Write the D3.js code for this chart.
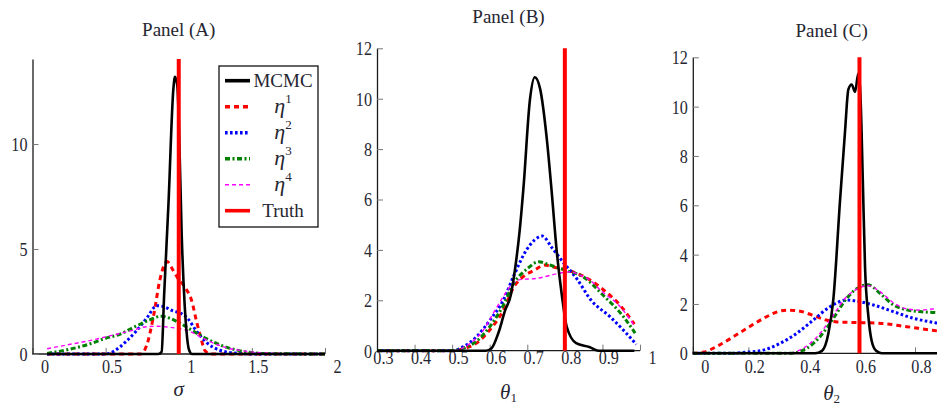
<!DOCTYPE html>
<html>
<head>
<meta charset="utf-8">
<script src="https://cdn.jsdelivr.net/npm/d3@7"></script>
<style>
  body { margin: 0; background: #fff; }
  svg { display: block; }
  svg text { font-family: "Liberation Serif", "DejaVu Serif", serif; }
</style>
</head>
<body>
<svg id="chart" width="937" height="406"></svg>
<script>
// --- datos: pares [x, densidad] ---
const seriesLabels = ["MCMC", "1", "2", "3", "4", "Truth"];
const truthValues = [1.0, 0.8, 0.6];

// Panel (A): sigma
const mcmcA = [[0.1,0],[0.86,0],[0.883,0.1],[0.9,2.8],[0.93,7.2],[0.963,12.6],[0.974,13.2],[0.99,12.8],[1.0,11.2],[1.02,5.7],[1.04,2.4],[1.054,1.0],[1.07,0.2],[1.09,0],[2,0]];
const eta1A = [[0.1,0],[0.74,0],[0.78,0.4],[0.83,1.9],[0.87,3.5],[0.92,4.4],[0.96,4.0],[0.99,3.65],[1.04,3.2],[1.09,2.5],[1.12,1.6],[1.15,0.8],[1.18,0.15],[1.22,0],[2,0]];
const eta2A = [[0.1,0],[0.5,0],[0.56,0.15],[0.64,0.6],[0.71,1.1],[0.78,1.7],[0.85,2.3],[0.9,2.25],[0.96,2.05],[1.01,1.95],[1.06,1.7],[1.12,1.1],[1.19,0.55],[1.28,0.18],[1.4,0.03],[1.5,0],[2,0]];
const eta3A = [[0.1,0.03],[0.2,0.15],[0.3,0.3],[0.4,0.5],[0.5,0.75],[0.6,0.95],[0.7,1.3],[0.8,1.62],[0.88,1.8],[0.94,1.7],[1.0,1.5],[1.05,1.3],[1.17,0.8],[1.26,0.5],[1.35,0.27],[1.46,0.1],[1.6,0.02],[2,0]];
const eta4A = [[0.1,0.25],[0.25,0.45],[0.4,0.65],[0.55,0.9],[0.67,1.1],[0.78,1.3],[0.86,1.32],[0.94,1.27],[1.05,1.14],[1.19,0.67],[1.3,0.35],[1.44,0.15],[1.58,0.05],[1.8,0.01],[2,0]];

// Panel (B): theta_1
const mcmcB = [[0.3,0],[0.59,0],[0.605,0.1],[0.623,0.7],[0.641,1.6],[0.656,2.2],[0.667,3.2],[0.68,4.8],[0.69,6.5],[0.707,9.95],[0.72,10.85],[0.734,10.4],[0.752,8.4],[0.765,6.3],[0.778,4.0],[0.792,2.2],[0.805,0.95],[0.83,0.3],[0.865,0.15],[0.89,0],[0.985,0]];
const eta1B = [[0.3,0],[0.5,0],[0.53,0.08],[0.565,0.3],[0.6,0.82],[0.636,1.6],[0.663,2.5],[0.69,2.95],[0.72,3.2],[0.745,3.4],[0.775,3.3],[0.8,3.22],[0.85,2.95],[0.9,2.45],[0.947,1.8],[0.985,1.05]];
const eta2B = [[0.3,0],[0.5,0],[0.53,0.16],[0.565,0.56],[0.6,1.2],[0.636,2.0],[0.663,2.94],[0.698,4.0],[0.72,4.4],[0.74,4.55],[0.765,4.1],[0.796,3.5],[0.832,2.85],[0.87,2.0],[0.92,1.35],[0.96,0.75],[0.99,0.25]];
const eta3B = [[0.3,0],[0.5,0],[0.53,0.1],[0.565,0.38],[0.6,0.95],[0.636,1.8],[0.663,2.65],[0.7,3.25],[0.73,3.53],[0.76,3.4],[0.8,3.2],[0.85,2.92],[0.902,2.2],[0.956,1.35],[0.987,0.7]];
const eta4B = [[0.3,0],[0.5,0],[0.53,0.12],[0.548,0.29],[0.583,0.82],[0.61,1.5],[0.636,2.14],[0.66,2.65],[0.68,2.82],[0.725,2.87],[0.778,3.05],[0.814,3.13],[0.84,3.0],[0.867,2.8],[0.894,2.41],[0.947,1.75],[0.987,0.95]];

// Panel (C): theta_2
const mcmcC = [[0,0],[0.44,0],[0.465,0.1],[0.488,0.8],[0.506,2.2],[0.53,6.2],[0.548,9.0],[0.56,10.7],[0.572,10.9],[0.584,10.6],[0.596,11.35],[0.604,10.3],[0.612,7.0],[0.62,3.5],[0.632,1.5],[0.644,0.5],[0.66,0.1],[0.68,0],[1,0]];
const eta1C = [[0,0],[0.04,0.05],[0.09,0.3],[0.15,0.7],[0.2,1.05],[0.26,1.45],[0.31,1.7],[0.34,1.75],[0.38,1.72],[0.43,1.55],[0.48,1.35],[0.52,1.27],[0.58,1.25],[0.67,1.22],[0.77,1.08],[0.87,0.92],[1,0.8]];
const eta2C = [[0,0],[0.13,0],[0.2,0.05],[0.254,0.13],[0.314,0.4],[0.374,0.81],[0.434,1.35],[0.494,1.89],[0.554,2.16],[0.602,2.09],[0.65,1.96],[0.722,1.69],[0.794,1.42],[0.872,1.24],[1,1.05]];
const eta3C = [[0,0],[0.35,0],[0.41,0.2],[0.458,0.67],[0.506,1.42],[0.554,2.23],[0.602,2.7],[0.63,2.78],[0.674,2.43],[0.722,1.96],[0.77,1.76],[0.818,1.69],[0.872,1.65],[1,1.5]];
const eta4C = [[0,0],[0.34,0],[0.4,0.22],[0.45,0.7],[0.5,1.45],[0.55,2.25],[0.6,2.65],[0.63,2.75],[0.674,2.5],[0.722,2.05],[0.77,1.8],[0.818,1.75],[0.872,1.8],[1,1.75]];

// ticks
const xTicksA = [0, 0.5, 1, 1.5, 2];
const yTicksA = [0, 5, 10];
const xTicksB = [0.3, 0.4, 0.5, 0.6, 0.7, 0.8, 0.9, 1];
const yTicksB = [0, 2, 4, 6, 8, 10, 12];
const xTicksC = [0, 0.2, 0.4, 0.6, 0.8];
const yTicksC = [0, 2, 4, 6, 8, 10, 12];

// estilos (MCMC, eta1..eta4, Truth)
const styles = [
  { color: "#000000", width: 2.6, dash: null },
  { color: "#ff0000", width: 3,   dash: "5,4" },
  { color: "#0000ff", width: 3,   dash: "2.6,2.4" },
  { color: "#008000", width: 3,   dash: "5,2.5,2,2.5" },
  { color: "#ff00ff", width: 1.4, dash: "4,3" },
  { color: "#ff0000", width: 4,   dash: null }
];

const panels = [
  { title: "Panel (A)", titleY: 36, xDomain: [0, 2], xRange: [32.5, 325], yDomain: [0, 14.05], yRange: [354, 59],
    xTicks: xTicksA, yTicks: yTicksA, label: "σ", sub: null, labelY: 396, tickY: 19,
    series: [mcmcA, eta1A, eta2A, eta3A, eta4A], truth: truthValues[0] },
  { title: "Panel (B)", titleY: 23.3, xDomain: [0.3, 1], xRange: [377, 640], yDomain: [0, 12], yRange: [350.7, 48.3],
    xTicks: xTicksB, yTicks: yTicksB, label: "θ", sub: "1", labelY: 398.5, tickY: 12.8,
    series: [mcmcB, eta1B, eta2B, eta3B, eta4B], truth: truthValues[1] },
  { title: "Panel (C)", titleY: 36.7, xDomain: [0, 1], xRange: [692.8, 970.6], yDomain: [0, 12], yRange: [353.3, 57.3],
    xTicks: xTicksC, yTicks: yTicksC, label: "θ", sub: "2", labelY: 399.5, tickY: 20,
    series: [mcmcC, eta1C, eta2C, eta3C, eta4C], truth: truthValues[2] }
];

const svg = d3.select("#chart");
const fmt = d3.format("~g");
const textColor = "#262631";
const serif = "Liberation Serif, DejaVu Serif, serif";

panels.forEach((p, i) => {
  const x = d3.scaleLinear().domain(p.xDomain).range(p.xRange);
  const y = d3.scaleLinear().domain(p.yDomain).range(p.yRange);
  const g = svg.append("g").attr("class", "panel-" + i);

  // --- ejes ---
  const gx = g.append("g")
    .attr("transform", `translate(0,${p.yRange[0]})`)
    .call(d3.axisBottom(x).tickValues(p.xTicks).tickSizeInner(-6).tickSizeOuter(0).tickFormat(fmt));
  // el eje llega al final del dominio aunque no haya etiqueta
  gx.select(".domain").attr("d", `M${p.xRange[0]},0H${p.xRange[1]}`);
  gx.selectAll("text")
    .attr("y", 0).attr("dy", null).attr("x", 0)
    .attr("text-anchor", "end")
    .attr("transform", `translate(16,${p.tickY}) scale(0.85,1)`);

  const gy = g.append("g")
    .attr("transform", `translate(${p.xRange[0]},0)`)
    .call(d3.axisLeft(y).tickValues(p.yTicks).tickSizeInner(-6).tickSizeOuter(0).tickFormat(fmt));
  gy.selectAll("text")
    .attr("x", 0).attr("dy", "0.34em")
    .attr("text-anchor", "end")
    .attr("transform", "translate(-5,0) scale(0.85,1)");

  [gx, gy].forEach(a => {
    a.attr("font-family", serif);
    a.select(".domain").attr("stroke", "#1a1a1a").attr("stroke-width", 1.3);
    a.selectAll(".tick line").attr("stroke", "#777").attr("stroke-width", 1);
    a.selectAll("text").attr("font-size", 19).attr("fill", textColor);
  });

  // --- curvas ---
  const line = d3.line()
    .x(d => x(d[0]))
    .y(d => y(d[1]))
    .curve(d3.curveMonotoneX);

  const order = [1, 2, 3, 4, 0];
  order.forEach(k => {
    const s = styles[k];
    g.append("path")
      .datum(p.series[k])
      .attr("d", line)
      .attr("fill", "none")
      .attr("stroke", s.color)
      .attr("stroke-width", s.width)
      .attr("stroke-dasharray", s.dash)
      .attr("stroke-linejoin", "round");
  });

  // --- valor verdadero ---
  g.append("line")
    .attr("x1", x(p.truth)).attr("x2", x(p.truth))
    .attr("y1", y(p.yDomain[0])).attr("y2", y(p.yDomain[1]))
    .attr("stroke", styles[5].color)
    .attr("stroke-width", styles[5].width);

  // --- título y etiqueta ---
  g.append("text")
    .attr("x", (p.xRange[0] + p.xRange[1]) / 2)
    .attr("y", p.titleY)
    .attr("text-anchor", "middle")
    .attr("font-family", serif)
    .attr("font-size", 19)
    .attr("fill", textColor)
    .text(p.title);

  const lab = g.append("text")
    .attr("x", (p.xRange[0] + p.xRange[1]) / 2)
    .attr("y", p.labelY)
    .attr("text-anchor", "middle")
    .attr("font-family", serif)
    .attr("font-size", 21)
    .attr("font-style", "italic")
    .attr("fill", textColor);
  lab.append("tspan").text(p.label);
  if (p.sub) lab.append("tspan").attr("font-size", 13).attr("font-style", "normal").attr("dy", 3).text(p.sub);
});

// --- leyenda (panel A) ---
const legend = svg.append("g").attr("class", "legend").attr("font-family", serif);
legend.append("rect")
  .attr("x", 219).attr("y", 66).attr("width", 99).attr("height", 161)
  .attr("fill", "#fff").attr("stroke", "#111").attr("stroke-width", 1.3);

const legendY = d3.scalePoint().domain(d3.range(seriesLabels.length)).range([80.7, 210.7]);

seriesLabels.forEach((name, k) => {
  const s = styles[k];
  const yy = legendY(k);
  legend.append("line")
    .attr("x1", 225).attr("x2", 250).attr("y1", yy).attr("y2", yy)
    .attr("stroke", s.color)
    .attr("stroke-width", k === 4 ? 1.6 : 3.6)
    .attr("stroke-dasharray", s.dash);
  const t = legend.append("text")
    .attr("x", 283).attr("y", yy + 6)
    .attr("text-anchor", "middle")
    .attr("font-size", 19)
    .attr("fill", textColor);
  if (k === 0 || k === 5) {
    t.text(name);
  } else {
    t.append("tspan").attr("font-style", "italic").attr("font-size", 22).text("η");
    t.append("tspan").attr("font-size", 13).attr("dy", -10).text(name);
  }
});
</script>
</body>
</html>
